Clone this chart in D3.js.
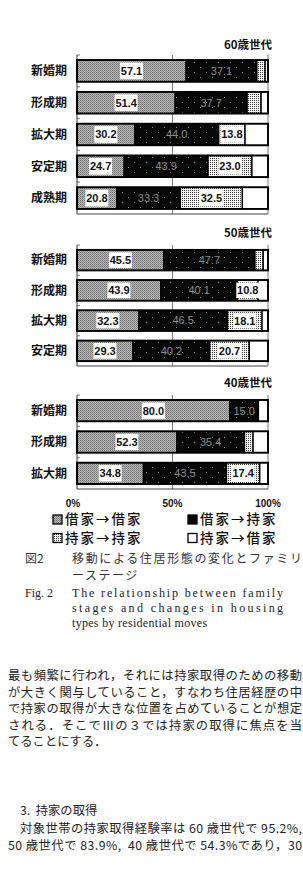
<!DOCTYPE html>
<html><head><meta charset="utf-8">
<script src="https://cdn.jsdelivr.net/npm/d3@7"></script>
<style>
html,body{margin:0;padding:0;background:#fff;}
svg{display:block;}
</style></head>
<body>
<script>
// ---- data ----
const seriesNames = ["借家→借家", "借家→持家", "持家→持家", "持家→借家"];
const groupNames = ["60歳世代", "50歳世代", "40歳世代"];

const stages60 = ["新婚期", "形成期", "拡大期", "安定期", "成熟期"];
const rentRent60 = [57.1, 51.4, 30.2, 24.7, 20.8];
const rentOwn60  = [37.1, 37.7, 44.0, 43.9, 33.3];
const ownOwn60   = [4.3, 7.3, 13.8, 23.0, 32.5];
const ownRent60  = [1.5, 3.6, 12.0, 8.4, 13.4];

const stages50 = ["新婚期", "形成期", "拡大期", "安定期"];
const rentRent50 = [45.5, 43.9, 32.3, 29.3];
const rentOwn50  = [47.7, 40.1, 46.5, 40.2];
const ownOwn50   = [4.3, 10.8, 18.1, 20.7];
const ownRent50  = [2.5, 5.2, 3.1, 9.8];

const stages40 = ["新婚期", "形成期", "拡大期"];
const rentRent40 = [80.0, 52.3, 34.8];
const rentOwn40  = [15.0, 35.4, 43.5];
const ownOwn40   = [0, 4.5, 17.4];
const ownRent40  = [5.0, 7.8, 4.3];

const tickValues = [0, 50, 100];
const tickLabels = ["0%", "50%", "100%"];

const captionJa = ["図2", "移動による住居形態の変化とファミリ", "ーステージ"];
const captionEn = ["Fig. 2", "The relationship between family", "stages and changes in housing", "types by residential moves"];
const bodyLines = [
  "最も頻繁に行われ，それには持家取得のための移動",
  "が大きく関与していること，すなわち住居経歴の中",
  "で持家の取得が大きな位置を占めていることが想定",
  "される．そこでⅢの３では持家の取得に焦点を当",
  "てることにする．"
];
const sectionTitle = "3.  持家の取得";
const bodyLines2 = [
  "対象世帯の持家取得経験率は 60 歳世代で 95.2%,",
  "50 歳世代で 83.9%,  40 歳世代で 54.3%であり，30"
];

// ---- build ----
const W = 303, H = 873;
const svg = d3.select("body").append("svg").attr("width", W).attr("height", H);
const defs = svg.append("defs");

// patterns
const pg = defs.append("pattern").attr("id","pGray").attr("width",2).attr("height",2).attr("patternUnits","userSpaceOnUse");
pg.append("rect").attr("width",2).attr("height",2).attr("fill","#b8b8b8");
pg.append("rect").attr("width",1).attr("height",1).attr("fill","#707070");
pg.append("rect").attr("x",1).attr("y",1).attr("width",1).attr("height",1).attr("fill","#8a8a8a");

const pb = defs.append("pattern").attr("id","pBlack").attr("width",12).attr("height",10).attr("patternUnits","userSpaceOnUse");
pb.append("rect").attr("width",12).attr("height",10).attr("fill","#080808");
pb.append("rect").attr("x",2).attr("y",2).attr("width",1).attr("height",1).attr("fill","#8a8a8a");
pb.append("rect").attr("x",8).attr("y",7).attr("width",1).attr("height",1).attr("fill","#8a8a8a");

const pd = defs.append("pattern").attr("id","pDot").attr("width",2).attr("height",2).attr("patternUnits","userSpaceOnUse");
pd.append("rect").attr("width",2).attr("height",2).attr("fill","#f4f4f4");
pd.append("rect").attr("width",1).attr("height",1).attr("fill","#3a3a3a");

const fills = ["url(#pGray)", "url(#pBlack)", "url(#pDot)", "#ffffff"];

const x = d3.scaleLinear().domain([0, 100]).range([77, 268]);

const groups = [
  {name: groupNames[0], stages: stages60, series: [rentRent60, rentOwn60, ownOwn60, ownRent60], top: 55, bottom: 214, titleY: 49},
  {name: groupNames[1], stages: stages50, series: [rentRent50, rentOwn50, ownOwn50, ownRent50], top: 245, bottom: 366, titleY: 237},
  {name: groupNames[2], stages: stages40, series: [rentRent40, rentOwn40, ownOwn40, ownRent40], top: 395, bottom: 489, titleY: 387}
];

const sansJa = "'Noto Sans CJK JP', sans-serif";

groups.forEach(g => {
  const y = d3.scaleBand().domain(g.stages).range([g.top, g.bottom]).paddingInner(0.32).paddingOuter(0.16);
  const G = svg.append("g");

  // gridlines / frame
  tickValues.forEach(v => {
    G.append("line").attr("x1", x(v)).attr("x2", x(v)).attr("y1", g.top).attr("y2", g.bottom)
      .attr("stroke", v === 0 ? "#333" : "#555").attr("stroke-width", v === 0 ? 1 : 0.8);
  });
  G.append("line").attr("x1", x(0)).attr("x2", x(100)).attr("y1", g.bottom).attr("y2", g.bottom)
    .attr("stroke", "#444").attr("stroke-width", 1);
  // small inward ticks at band boundaries
  const bounds = [g.top].concat(g.stages.slice(1).map(s => y(s) - y.step() * y.paddingInner() / 2));
  bounds.forEach(b => {
    G.append("line").attr("x1", x(0)).attr("x2", x(0) + 3).attr("y1", b).attr("y2", b)
      .attr("stroke", "#555").attr("stroke-width", 0.8);
  });

  // title
  G.append("text").attr("x", 272).attr("y", g.titleY).attr("text-anchor", "end")
    .attr("font-family", sansJa).attr("font-weight", "bold").attr("font-size", 11.5)
    .attr("fill", "#111").text(g.name);

  // category labels
  g.stages.forEach(s => {
    G.append("text").attr("x", 67).attr("y", y(s) + y.bandwidth() / 2).attr("dy", "0.36em")
      .attr("text-anchor", "end").attr("font-family", sansJa).attr("font-weight", "bold")
      .attr("font-size", 12).attr("fill", "#111").text(s);
  });

  // stacked bars
  const rows = g.stages.map((s, i) => {
    let acc = 0;
    return g.series.map((arr, k) => {
      const seg = {stage: s, k, v: arr[i], x0: acc, x1: acc + arr[i]};
      acc += arr[i];
      return seg;
    });
  });
  rows.forEach(row => {
    row.filter(d => d.v > 0).forEach(d => {
      G.append("rect").attr("x", x(d.x0)).attr("y", y(d.stage))
        .attr("width", x(d.x1) - x(d.x0)).attr("height", y.bandwidth())
        .attr("fill", fills[d.k]).attr("stroke", "#000").attr("stroke-width", 1.3);
    });
    // outer outline
    G.append("rect").attr("x", x(0)).attr("y", y(row[0].stage))
      .attr("width", x(100) - x(0)).attr("height", y.bandwidth())
      .attr("fill", "none").attr("stroke", "#000").attr("stroke-width", 1.8);
    // labels
    row.filter(d => d.k < 3 && d.v >= 10).forEach(d => {
      const cx = (x(d.x0) + x(d.x1)) / 2;
      const cy = y(d.stage) + y.bandwidth() / 2;
      const label = d.v.toFixed(1);
      if (d.k === 1) {
        G.append("text").attr("x", cx).attr("y", cy).attr("dy", "0.35em").attr("text-anchor", "middle")
          .attr("font-family", "'Liberation Sans', Arial, sans-serif").attr("font-size", 11)
          .attr("fill", "#8c8c8c").text(label);
      } else {
        const bw = 23, bh = y.bandwidth() - 5;
        G.append("rect").attr("x", cx - bw / 2).attr("y", cy - bh / 2).attr("width", bw).attr("height", bh)
          .attr("fill", "#fff");
        G.append("text").attr("x", cx).attr("y", cy).attr("dy", "0.36em").attr("text-anchor", "middle")
          .attr("font-family", "'Liberation Sans', Arial, sans-serif").attr("font-weight", "bold")
          .attr("font-size", 11).attr("fill", "#111").text(label);
      }
    });
  });
});

// bottom axis labels
const axisG = svg.append("g");
tickValues.forEach((v, i) => {
  axisG.append("text").attr("x", x(v) + (i === 0 ? -4 : 0)).attr("y", 507).attr("text-anchor", "middle")
    .attr("font-family", "'Liberation Sans', Arial, sans-serif").attr("font-weight", "bold")
    .attr("font-size", 10).attr("fill", "#111").text(tickLabels[i]);
});

// legend
const legendPos = [[53, 519.5], [188, 519.5], [53, 538], [188, 538]];
const legendOrder = [0, 1, 2, 3];
legendOrder.forEach((k, i) => {
  const [lx, ly] = legendPos[i];
  svg.append("rect").attr("x", lx).attr("y", ly - 4.5).attr("width", 9).attr("height", 9)
    .attr("fill", k === 1 ? "#000" : fills[k]).attr("stroke", "#000").attr("stroke-width", 1.3);
  svg.append("text").attr("x", lx + 12).attr("y", ly).attr("dy", "0.36em")
    .attr("font-family", sansJa).attr("font-size", 13.5).attr("font-weight", 500)
    .attr("letter-spacing", 2).attr("fill", "#111").text(seriesNames[k]);
});

// Japanese caption
const capFont = sansJa;
svg.append("text").attr("x", 25).attr("y", 563).attr("font-family", capFont).attr("font-size", 12)
  .attr("fill", "#333").text(captionJa[0]);
svg.append("text").attr("x", 72).attr("y", 563).attr("font-family", capFont).attr("font-size", 12)
  .attr("fill", "#333").attr("textLength", 230).attr("lengthAdjust", "spacing").text(captionJa[1]);
svg.append("text").attr("x", 72).attr("y", 580).attr("font-family", capFont).attr("font-size", 12)
  .attr("fill", "#333").attr("letter-spacing", 1.5).text(captionJa[2]);

// English caption
const serif = "'Liberation Serif', 'DejaVu Serif', serif";
svg.append("text").attr("x", 25).attr("y", 597).attr("font-family", serif).attr("font-size", 12)
  .attr("fill", "#222").text(captionEn[0]);
[[captionEn[1], 597, 211], [captionEn[2], 612, 211], [captionEn[3], 627, null]].forEach(([t, yy, len]) => {
  const el = svg.append("text").attr("x", 72).attr("y", yy).attr("font-family", serif).attr("font-size", 12)
    .attr("fill", "#222").text(t);
  if (len) el.attr("textLength", len).attr("lengthAdjust", "spacing");
  else el.attr("letter-spacing", 0.3);
});

// body text
const bodyFont = sansJa;
bodyLines.forEach((t, i) => {
  const el = svg.append("text").attr("x", 8).attr("y", 680 + i * 16.6).attr("font-family", bodyFont)
    .attr("font-size", 12.3).attr("fill", "#222").text(t);
  if (i < bodyLines.length - 1) el.attr("textLength", 294).attr("lengthAdjust", "spacing");
});
svg.append("text").attr("x", 20).attr("y", 815).attr("font-family", bodyFont).attr("font-size", 12.3)
  .attr("fill", "#222").attr("xml:space", "preserve").text(sectionTitle);
bodyLines2.forEach((t, i) => {
  svg.append("text").attr("x", i === 0 ? 20 : 8).attr("y", 833 + i * 16.6).attr("font-family", bodyFont)
    .attr("font-size", 12.3).attr("fill", "#222").attr("xml:space", "preserve")
    .attr("textLength", i === 0 ? 282 : 294).attr("lengthAdjust", "spacing").text(t);
});
</script>
</body></html>
